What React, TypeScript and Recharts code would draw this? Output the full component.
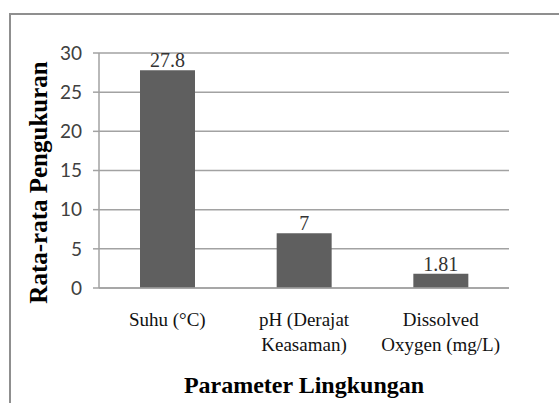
import React from 'react';
import { BarChart, Bar, XAxis, YAxis, CartesianGrid, LabelList } from 'recharts';

const categoryLines = [['Suhu (°C)'], ['pH (Derajat', 'Keasaman)'], ['Dissolved', 'Oxygen (mg/L)']];
const categories = categoryLines.map((l) => l.join(' '));
const values = [27.8, 7, 1.81];
const yTicks = [0, 5, 10, 15, 20, 25, 30];
const xTitle = 'Parameter Lingkungan';
const yTitle = 'Rata-rata Pengukuran';

const data = categories.map((c, i) => ({ name: c, value: values[i] }));

const SERIF = '"Liberation Serif", "DejaVu Serif", serif';
const SANS = 'Lato, "Open Sans", sans-serif';
const GRID = '#a2a2a2';

function CategoryTick(props: any) {
  const { x, y, payload } = props;
  const idx = categories.indexOf(payload.value);
  const lines = idx >= 0 ? categoryLines[idx] : [String(payload.value)];
  return (
    <text x={x} y={y + 38} textAnchor="middle" fill="#111" style={{ fontFamily: SERIF, fontSize: 19 }}>
      {lines.map((ln, i) => (
        <tspan key={i} x={x} dy={i === 0 ? 0 : 25}>
          {ln}
        </tspan>
      ))}
    </text>
  );
}

function XTitle(props: any) {
  const vb = props.viewBox || { x: 99, y: 288, width: 410, height: 115 };
  const cx = vb.x + vb.width / 2;
  const cy = vb.y + vb.height - 10;
  return (
    <text x={cx} y={cy} textAnchor="middle" fill="#000" style={{ fontFamily: SERIF, fontSize: 24, fontWeight: 'bold' }}>
      {xTitle}
    </text>
  );
}

function YTitle(props: any) {
  const vb = props.viewBox || { x: 0, y: 53, width: 99, height: 235 };
  const cx = vb.x + 38;
  const cy = vb.y + vb.height / 2 + 12;
  return (
    <text
      x={cx}
      y={cy}
      transform={`rotate(-90, ${cx}, ${cy})`}
      textAnchor="middle"
      dominantBaseline="central"
      fill="#000"
      style={{ fontFamily: SERIF, fontSize: 25, fontWeight: 'bold' }}
    >
      {yTitle}
    </text>
  );
}

export default function App() {
  return (
    <div style={{ position: 'absolute', left: 0, top: 0, width: 559, height: 403, background: '#fff', overflow: 'hidden' }}>
      <div
        style={{
          position: 'absolute',
          left: 9,
          top: 13,
          width: 620,
          height: 500,
          border: '2px solid #8f8f8f',
          boxSizing: 'border-box',
        }}
      />
      <div style={{ position: 'absolute', left: 0, top: 0 }}>
        <BarChart
          width={559}
          height={403}
          data={data}
          margin={{ top: 53, right: 50, bottom: 0, left: 0 }}
          barCategoryGap="30%"
        >
          <CartesianGrid vertical={false} stroke={GRID} strokeWidth={1.5} />
          <XAxis
            dataKey="name"
            height={115}
            interval={0}
            tickLine={false}
            tickSize={0}
            tickMargin={0}
            axisLine={{ stroke: GRID, strokeWidth: 1.5 }}
            tick={<CategoryTick />}
            label={<XTitle />}
          />
          <YAxis
            width={99}
            domain={[0, 30]}
            ticks={yTicks}
            interval={0}
            tickSize={6}
            tickMargin={11}
            axisLine={{ stroke: GRID, strokeWidth: 1.5 }}
            tickLine={{ stroke: GRID, strokeWidth: 1.5 }}
            tick={{ fill: '#404040', fontFamily: SANS, fontSize: 19 }}
            label={<YTitle />}
          />
          <Bar dataKey="value" fill="#5f5f5f" isAnimationActive={false}>
            <LabelList
              dataKey="value"
              position="top"
              offset={3}
              fill="#333"
              style={{ fontFamily: SERIF, fontSize: 20 }}
            />
          </Bar>
        </BarChart>
      </div>
    </div>
  );
}
